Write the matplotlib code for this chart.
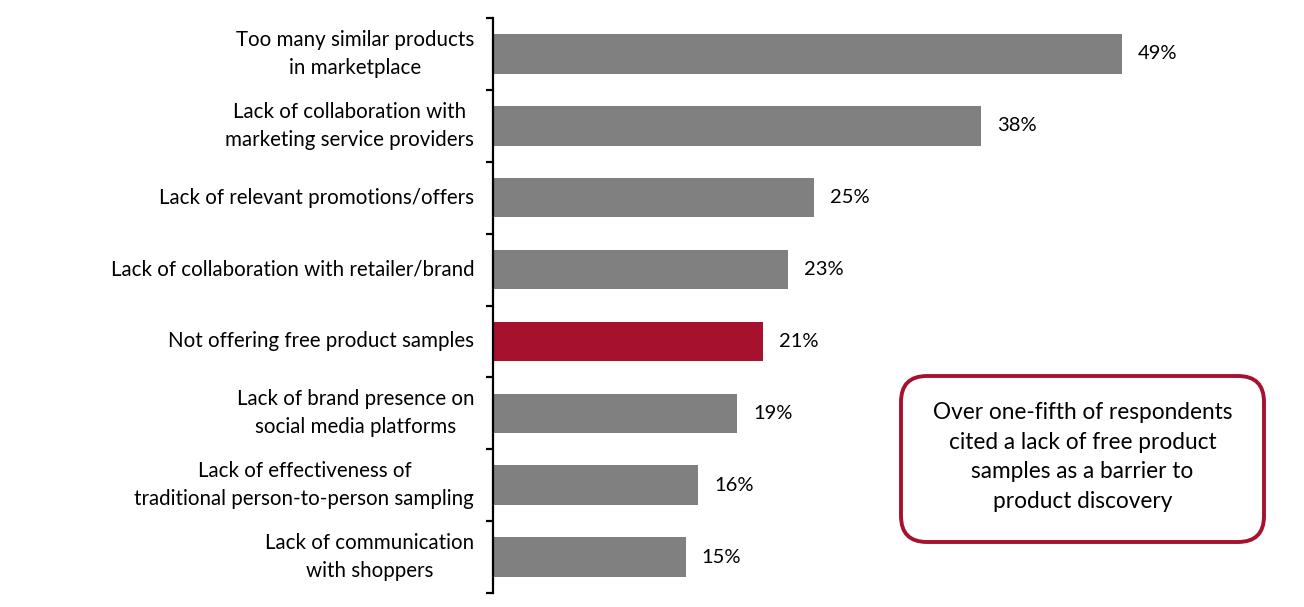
import matplotlib
matplotlib.use("Agg")
import matplotlib.pyplot as plt
from matplotlib.patches import FancyBboxPatch

categories = [
    "Too many similar products\nin marketplace",
    "Lack of collaboration with\nmarketing service providers",
    "Lack of relevant promotions/offers",
    "Lack of collaboration with retailer/brand",
    "Not offering free product samples",
    "Lack of brand presence on\nsocial media platforms",
    "Lack of effectiveness of\ntraditional person-to-person sampling",
    "Lack of communication\nwith shoppers",
]
values = [49, 38, 25, 23, 21, 19, 16, 15]
highlight = "Not offering free product samples"
callout = ("Over one-fifth of respondents\ncited a lack of free product\n"
           "samples as a barrier to\nproduct discovery")

GRAY = "#808080"
RED = "#A6112E"
FONT = ["Lato", "DejaVu Sans"]

W, H = 1304, 607
fig = plt.figure(figsize=(W / 100, H / 100), dpi=100)
plt.rcParams['font.family'] = FONT

left_px, right_px, top_px, bot_px = 493, 1135, 18, 593
ax = fig.add_axes([left_px / W, (H - bot_px) / H, (right_px - left_px) / W, (bot_px - top_px) / H])

n = len(categories)
ypos = list(range(n))
colors = [RED if c == highlight else GRAY for c in categories]
ax.barh(ypos, values, height=0.55, color=colors, zorder=2)
ax.set_ylim(n - 0.5, -0.5)
ax.set_xlim(0, 50)

for y, v in zip(ypos, values):
    ax.annotate(f"{v}%", xy=(v, y), xytext=(11.5, 0), textcoords="offset points",
                ha="left", va="center", fontsize=14.5, color="black")

for s in ["top", "right", "bottom"]:
    ax.spines[s].set_visible(False)
ax.spines["left"].set_linewidth(1.6)
ax.set_xticks([])
ax.set_yticks(ypos)
ax.set_yticklabels(categories, fontsize=14.8, multialignment="center", linespacing=1.5,
                   va="center")
ax.tick_params(axis="y", which="major", length=0, pad=13.5)
ax.set_yticks([i - 0.5 for i in range(n + 1)], minor=True)
ax.tick_params(axis="y", which="minor", length=5, width=1.6, direction="out")

# Callout box in pixel coordinates
ov = fig.add_axes([0, 0, 1, 1], facecolor="none")
ov.set_xlim(0, W)
ov.set_ylim(H, 0)
ov.axis("off")
bx0, by0, bx1, by1 = 901, 376, 1264, 542
box = FancyBboxPatch((bx0, by0), bx1 - bx0, by1 - by0,
                     boxstyle="round,pad=0,rounding_size=26",
                     facecolor="white", edgecolor=RED, linewidth=2.8)
ov.add_patch(box)
ov.text((bx0 + bx1) / 2, (by0 + by1) / 2 - 2, callout, ha="center", va="center",
        fontsize=16.3, linespacing=1.5, color="black")

fig.savefig("out.png", dpi=100)
